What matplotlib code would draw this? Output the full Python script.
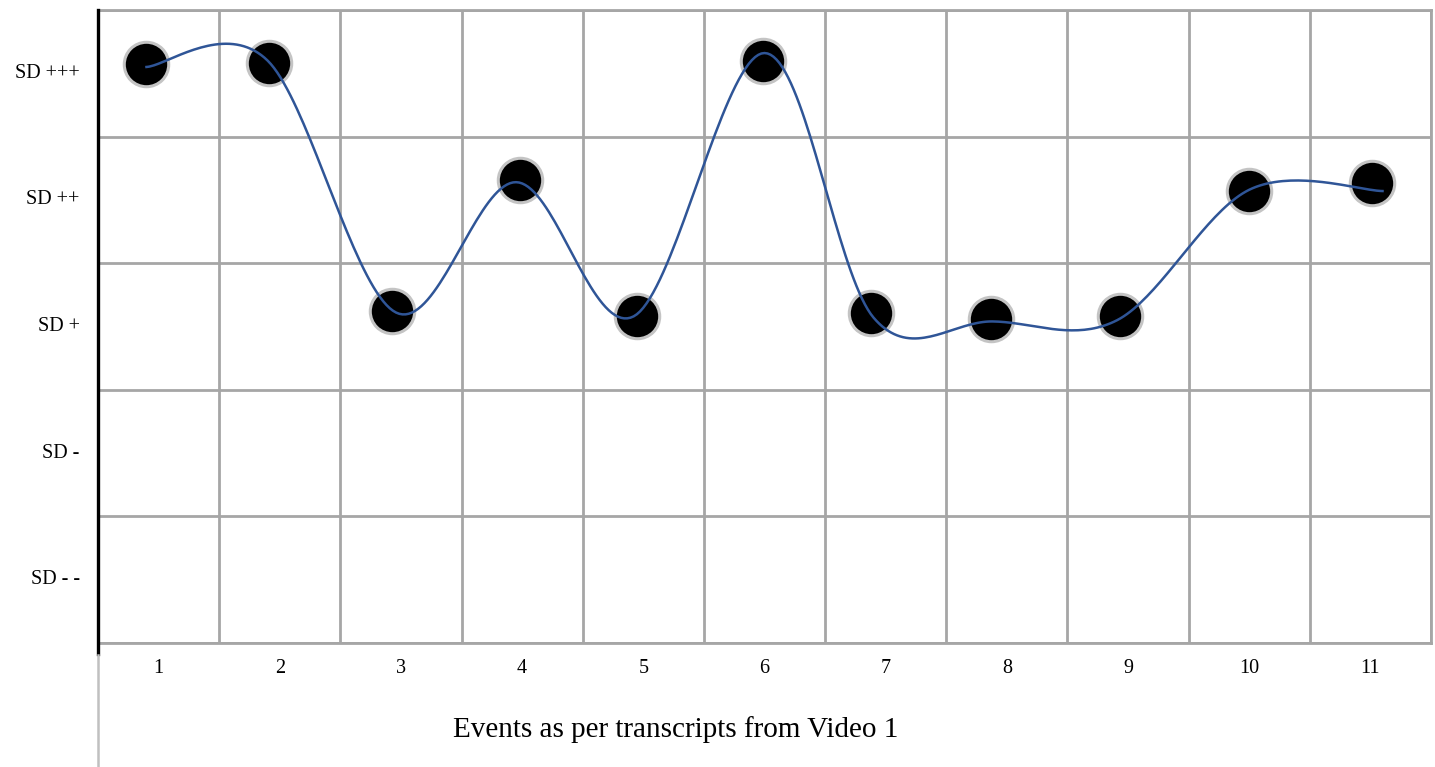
import numpy as np
import matplotlib
matplotlib.use('Agg')
import matplotlib.pyplot as plt
from matplotlib.lines import Line2D

# category bands on the y axis (bottom to top)
levels = ['SD - -', 'SD -', 'SD +', 'SD ++', 'SD +++']
events = [str(i) for i in range(1, 12)]

# marker positions (x in event columns, y in level bands)
marker_x = [0.40, 1.41, 2.43, 3.48, 4.45, 5.49, 6.38, 7.37, 8.43, 9.50, 10.51]
marker_y = [4.57, 4.58, 2.62, 3.66, 2.58, 4.60, 2.61, 2.56, 2.58, 3.57, 3.63]

# knots of the smoothed line (slightly off the markers in the original)
curve_x = [0.40, 1.40, 2.46, 3.45, 4.42, 5.50, 6.40, 7.38, 8.41, 9.50, 10.60]
curve_y = [4.55, 4.60, 2.61, 3.64, 2.58, 4.66, 2.57, 2.54, 2.55, 3.58, 3.57]


def smooth(xs, ys, n=40):
    # catmull-rom, like a spreadsheet "smoothed line"
    p = np.column_stack([xs, ys])
    p = np.vstack([p[0], p, p[-1]])
    out = []
    for i in range(1, len(p) - 2):
        p0, p1, p2, p3 = p[i - 1], p[i], p[i + 1], p[i + 2]
        t = np.linspace(0, 1, n)[:, None]
        c1 = p1 + (p2 - p0) / 6
        c2 = p2 - (p3 - p1) / 6
        seg = ((1 - t) ** 3) * p1 + 3 * ((1 - t) ** 2) * t * c1 \
            + 3 * (1 - t) * t ** 2 * c2 + t ** 3 * p2
        out.append(seg)
    seg = np.vstack(out)
    return seg[:, 0], seg[:, 1]


plt.rcParams['font.family'] = ['Liberation Serif', 'DejaVu Serif']

fig = plt.figure(figsize=(14.35, 7.67), dpi=100)
ax = fig.add_axes([98 / 1435, 1 - 643 / 767, (1431 - 98) / 1435, 633 / 767])

ax.set_xlim(0, 11)
ax.set_ylim(0, 5)

grid_c = '#a6a6a6'
ax.set_xticks(range(12))
ax.set_yticks(range(6))
ax.grid(True, color=grid_c, linewidth=2, zorder=0)
ax.tick_params(length=0, labelbottom=False, labelleft=False)

for i, lab in enumerate(events):
    ax.text(i + 0.5, -0.2, lab, ha='center', va='center', fontsize=14.5)
for i, lab in enumerate(levels):
    ax.text(-0.15, i + 0.5, lab, ha='right', va='center', fontsize=14.5)

for side in ['top', 'right', 'bottom']:
    ax.spines[side].set_color(grid_c)
    ax.spines[side].set_linewidth(2)
ax.spines['left'].set_color('black')
ax.spines['left'].set_linewidth(2.4)
ax.spines['left'].set_bounds(-0.09, 5)
ax.spines['left'].set_zorder(5)

# grey continuation of the left axis below the plot
fig.add_artist(Line2D([98 / 1435, 98 / 1435], [0, 1 - 655 / 767],
                      color='#c0c0c0', linewidth=1.8))

ax.plot(marker_x, marker_y, 'o', markersize=32, markerfacecolor='black',
        markeredgecolor='#c4c4c4', markeredgewidth=2.2, zorder=3, clip_on=False)
sx, sy = smooth(curve_x, curve_y)
ax.plot(sx, sy, color='#2f5597', linewidth=1.8, zorder=4, clip_on=False)

fig.text(676 / 1435, 1 - 730 / 767, 'Events as per transcripts from Video 1',
         ha='center', va='center', fontsize=21)

fig.savefig('out.png', dpi=100)
